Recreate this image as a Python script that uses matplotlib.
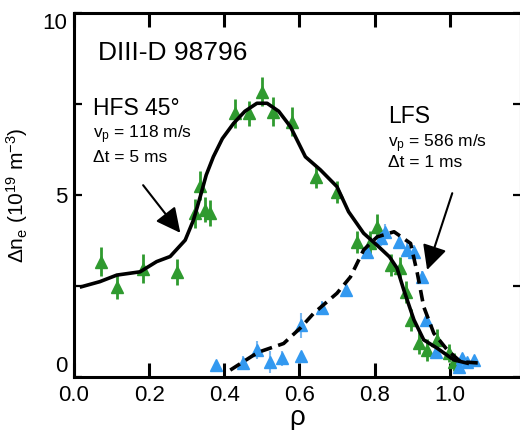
import numpy as np
import matplotlib
matplotlib.use("Agg")
import matplotlib.pyplot as plt

plt.rcParams['font.family'] = ['Liberation Sans', 'DejaVu Sans']
plt.rcParams['mathtext.fontset'] = 'custom'
plt.rcParams['mathtext.rm'] = 'Liberation Sans'
plt.rcParams['mathtext.it'] = 'Liberation Sans:italic'

# HFS 45 deg pellet data (green)
hfs_rho = [0.072, 0.114, 0.185, 0.274, 0.323, 0.336, 0.349, 0.361, 0.429, 0.465, 0.50,
           0.531, 0.58, 0.643, 0.70, 0.754, 0.789, 0.807, 0.843, 0.869, 0.883, 0.896,
           0.918, 0.94, 0.967, 0.998, 1.011]
hfs_dn = [3.17, 2.48, 2.98, 2.89, 4.5, 5.25, 4.6, 4.5, 7.24, 7.24, 7.84, 7.29, 7.01, 5.5,
          5.09, 3.72, 3.67, 4.13, 3.08, 2.99, 2.34, 1.57, 0.93, 0.74, 1.02, 0.65, 0.42]
hfs_err = [0.4, 0.35, 0.4, 0.35, 0.4, 0.4, 0.35, 0.35, 0.4, 0.35, 0.4, 0.4, 0.4, 0.3,
           0.3, 0.3, 0.35, 0.35, 0.3, 0.3, 0.3, 0.3, 0.3, 0.3, 0.3, 0.25, 0.25]

# LFS pellet data (blue)
lfs_rho = [0.379, 0.451, 0.487, 0.523, 0.554, 0.603, 0.603, 0.66, 0.723, 0.78, 0.816,
           0.829, 0.865, 0.887, 0.905, 0.927, 0.936, 0.963, 1.025, 1.034, 1.047, 1.065]
lfs_dn = [0.33, 0.38, 0.74, 0.42, 0.51, 0.58, 1.42, 1.89, 2.39, 3.44, 3.81, 3.99, 3.72,
          3.49, 3.44, 2.75, 1.57, 0.70, 0.28, 0.51, 0.42, 0.47]
lfs_err = [0.1, 0.2, 0.25, 0.3, 0.2, 0.1, 0.35, 0.2, 0.15, 0.2, 0.2, 0.2, 0.2, 0.2, 0.2,
           0.15, 0.1, 0.1, 0.1, 0.1, 0.1, 0.1]

# fitted profiles
hfs_fit_rho = [0.02, 0.069, 0.114, 0.176, 0.22, 0.256, 0.296, 0.318, 0.336, 0.352, 0.371,
               0.395, 0.425, 0.455, 0.487, 0.514, 0.545, 0.576, 0.616, 0.656, 0.70, 0.731,
               0.771, 0.811, 0.84, 0.86, 0.878, 0.905, 0.931, 0.967, 1.011, 1.047]
hfs_fit_dn = [2.48, 2.62, 2.8, 2.89, 3.17, 3.31, 3.76, 4.31, 4.95, 5.55, 6.05, 6.55, 6.97,
              7.3, 7.52, 7.52, 7.3, 6.88, 6.05, 5.69, 5.23, 4.54, 3.95, 3.58, 3.3, 2.99,
              2.39, 1.57, 1.02, 0.79, 0.47, 0.38]
lfs_fit_rho = [0.416, 0.478, 0.496, 0.558, 0.603, 0.638, 0.70, 0.736, 0.771, 0.807, 0.852,
               0.896, 0.914, 0.931, 0.958, 0.994, 1.029, 1.083]
lfs_fit_dn = [0.19, 0.6, 0.7, 0.92, 1.35, 1.75, 2.3, 2.75, 3.49, 3.85, 3.99, 3.67, 2.85,
              1.93, 1.20, 0.74, 0.42, 0.38]

green = '#2f9a2f'
blue = '#3399f0'

fig = plt.figure(figsize=(5.2, 4.3), dpi=100)
ax = fig.add_axes([74/520, 53/430, 447/520, 364/430])

ax.errorbar(hfs_rho, hfs_dn, yerr=hfs_err, fmt='^', color=green, ms=8, mec=green,
            elinewidth=2, capsize=0, zorder=3)
ax.errorbar(lfs_rho, lfs_dn, yerr=lfs_err, fmt='^', color=blue, ms=8, mec=blue,
            ecolor='#7ab8f0', elinewidth=1.5, capsize=0, zorder=3)
ax.plot(hfs_fit_rho, hfs_fit_dn, color='k', lw=2.6, zorder=4, solid_joinstyle='round')
ax.plot(lfs_fit_rho, lfs_fit_dn, color='k', lw=2.6, dashes=(3.2, 1.8), zorder=4)

ax.set_xlim(0, 1.19)
ax.set_ylim(0, 10)
ax.set_xticks([0.0, 0.2, 0.4, 0.6, 0.8, 1.0])
ax.set_xticklabels(['0.0', '0.2', '0.4', '0.6', '0.8', '1.0'])
ax.set_yticks([0, 5, 10])
ax.set_yticks([2.5, 7.5], minor=True)
ax.tick_params(axis='x', which='major', direction='in', length=10, width=2.2,
               top=True, labelsize=16, pad=6)
ax.tick_params(axis='y', which='both', direction='in', length=6, width=1.6,
               right=True, labelsize=16, pad=5)
ytl = ax.get_yticklabels()
ytl[0].set_va('bottom')
ytl[2].set_va('top')
for s in ax.spines.values():
    s.set_linewidth(2.2)

ax.set_xlabel('ρ', fontsize=20, labelpad=-1)
ax.set_ylabel('Δn$_\\mathrm{e}$ (10$^{19}$ m$^{-3}$)', fontsize=15, labelpad=9)

ax.text(0.064, 8.71, 'DIII-D 98796', fontsize=19)
ax.text(0.051, 7.2, 'HFS 45°', fontsize=16.5)
ax.text(0.051, 6.57, 'v$_\\mathrm{p}$ = 118 m/s', fontsize=12.5)
ax.text(0.051, 5.91, 'Δt = 5 ms', fontsize=12.5)
ax.text(0.837, 6.98, 'LFS', fontsize=16.5)
ax.text(0.837, 6.32, 'v$_\\mathrm{p}$ = 586 m/s', fontsize=12.5)
ax.text(0.837, 5.77, 'Δt = 1 ms', fontsize=12.5)

arrow = dict(arrowstyle='-|>,head_length=0.6,head_width=0.3', mutation_scale=25,
             color='k', lw=1.5, shrinkA=0, shrinkB=0)
ax.annotate('', xy=(0.283, 3.96), xytext=(0.184, 5.27), arrowprops=arrow)
ax.annotate('', xy=(0.94, 2.94), xytext=(1.007, 5.05), arrowprops=arrow)

fig.savefig('out.png', dpi=100)
